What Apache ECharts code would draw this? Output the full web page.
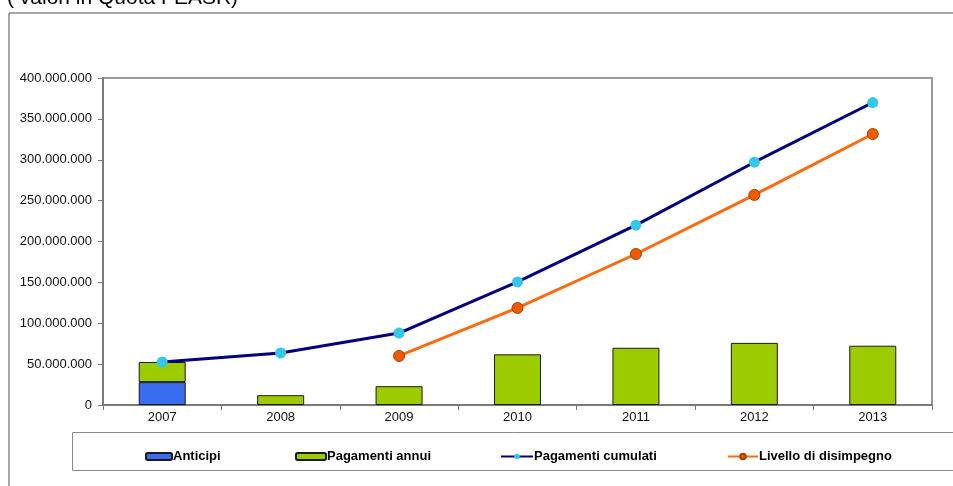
<!DOCTYPE html>
<html>
<head>
<meta charset="utf-8">
<script src="https://cdn.jsdelivr.net/npm/echarts@6/dist/echarts.min.js"></script>
<style>
  html, body { margin: 0; padding: 0; background: #fff; }
  #chart { width: 953px; height: 486px; }
</style>
</head>
<body>
<div id="chart"></div>
<script>
// Annual categories
const years = ['2007', '2008', '2009', '2010', '2011', '2012', '2013'];
// Advance payments (euro)
const anticipi = [28000000, null, null, null, null, null, null];
// Annual payments (euro)
const pagamentiAnnui = [24600000, 12000000, 23000000, 62000000, 70000000, 76000000, 72500000];
// Cumulative payments (euro)
const pagamentiCumulati = [52600000, 63600000, 88000000, 150500000, 220000000, 297000000, 370000000];
// Decommitment threshold (euro)
const livelloDisimpegno = [null, null, 60000000, 118700000, 184700000, 257000000, 331500000];
// Value axis ticks
const yTicks = { min: 0, max: 400000000, interval: 50000000 };

const fmt = v => v === 0 ? '0' : String(Math.round(v)).replace(/\B(?=(\d{3})+(?!\d))/g, '.');

const chart = echarts.init(document.getElementById('chart'), null, { renderer: 'canvas' });
const font = 'Arial, "Liberation Sans", sans-serif';

const legendBase = {
  top: 445,
  itemWidth: 28,
  itemHeight: 7,
  itemGap: 0,
  textStyle: { fontFamily: font, fontSize: 13, fontWeight: 'bold', color: '#000', padding: [0, 0, 0, -4] },
  selectedMode: false
};

chart.setOption({
  animation: false,
  backgroundColor: '#fff',
  grid: {
    left: 103, right: 21, top: 78, bottom: 81,
    show: true, borderColor: '#9a9a9a', borderWidth: 2
  },
  legend: [
    Object.assign({}, legendBase, { left: 140, itemWidth: 26, data: ['Anticipi'] }),
    Object.assign({}, legendBase, { left: 290, itemWidth: 30, data: ['Pagamenti annui'] }),
    Object.assign({}, legendBase, { left: 495, itemWidth: 32, data: ['Pagamenti cumulati'] }),
    Object.assign({}, legendBase, { left: 722, itemWidth: 30, data: ['Livello di disimpegno'] })
  ],
  graphic: [
    { type: 'line', shape: { x1: 9, y1: 13, x2: 953, y2: 13 }, style: { stroke: '#888', lineWidth: 1.5 } },
    { type: 'line', shape: { x1: 9, y1: 13, x2: 9, y2: 486 }, style: { stroke: '#888', lineWidth: 1.5 } },
    { type: 'rect', shape: { x: 72.5, y: 432.5, width: 890, height: 38 }, style: { fill: 'none', stroke: '#8a8a8a', lineWidth: 1 }, z: -1 },
    { type: 'text', left: 7, top: -12, style: { text: '( valori in Quota FEASR)', fontFamily: font, fontSize: 21, fill: '#000' } }
  ],
  xAxis: {
    type: 'category',
    data: years,
    boundaryGap: true,
    axisLine: { lineStyle: { color: '#7a7a7a', width: 2 } },
    axisTick: { show: true, length: 5, alignWithLabel: false, lineStyle: { color: '#7a7a7a' } },
    axisLabel: { fontFamily: font, fontSize: 13, color: '#111', margin: 6 }
  },
  yAxis: {
    type: 'value',
    min: yTicks.min, max: yTicks.max, interval: yTicks.interval,
    splitLine: { show: false },
    axisLine: { show: true, lineStyle: { color: '#7a7a7a', width: 2 } },
    axisTick: { show: true, length: 5, lineStyle: { color: '#7a7a7a' } },
    axisLabel: { fontFamily: font, fontSize: 13, color: '#111', margin: 11, formatter: fmt }
  },
  series: [
    {
      name: 'Anticipi', type: 'bar', stack: 'pag', data: anticipi, barWidth: 47,
      itemStyle: { color: '#3a6cf0', borderColor: '#1a1a1a', borderWidth: 1 }
    },
    {
      name: 'Pagamenti annui', type: 'bar', stack: 'pag', data: pagamentiAnnui, barWidth: 47,
      itemStyle: { color: '#9ccc00', borderColor: '#1a1a1a', borderWidth: 1 }
    },
    {
      name: 'Pagamenti cumulati', type: 'line', data: pagamentiCumulati,
      symbol: 'circle', symbolSize: 11, z: 5,
      lineStyle: { color: '#00007f', width: 3 },
      itemStyle: { color: '#33c8e8', borderColor: '#33c8e8', borderWidth: 0 }
    },
    {
      name: 'Livello di disimpegno', type: 'line', data: livelloDisimpegno,
      symbol: 'circle', symbolSize: 11, z: 5, connectNulls: false,
      lineStyle: { color: '#ff6a0e', width: 3 },
      itemStyle: { color: '#f05a00', borderColor: '#a84000', borderWidth: 1 }
    }
  ]
});
</script>
</body>
</html>
